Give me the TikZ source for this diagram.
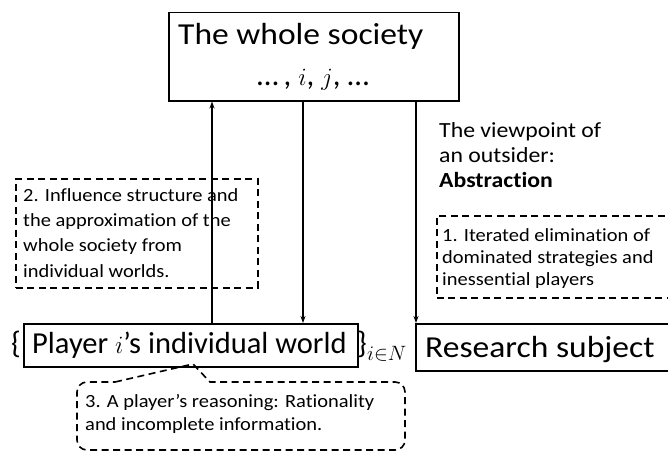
\documentclass[tikz,border=0pt]{standalone}
\usepackage{fontspec}
\setmainfont[Ligatures=NoCommon]{Carlito}
\newfontfamily\wfont[FakeStretch=1.1,Ligatures=NoCommon]{Carlito}
\usetikzlibrary{arrows.meta}
\begin{document}
\begin{tikzpicture}[x=1pt,y=-1pt,
  box/.style={draw, line width=1.5pt, inner sep=0pt},
  dbox/.style={draw, line width=1.6pt, dash pattern=on 7pt off 4.5pt},
  arr/.style={line width=1.3pt, -{Stealth[length=7pt,width=5pt]}},
  txt/.style={inner sep=0pt, anchor=base west},
  big/.style={font=\wfont\fontsize{30.5}{36}\selectfont},
  mid/.style={font=\wfont\fontsize{21.6}{25}\selectfont},
  small/.style={align=left}]
\useasboundingbox (0,0) rectangle (668,452);
\fill[white] (0,0) rectangle (668,452);

% top box
\node[box, anchor=north west, minimum width=290pt, minimum height=88pt] (soc) at (168,12) {};
\node[txt, big] (soct) at (178,45) {The whole society};
\node[inner sep=0pt, anchor=base, font=\fontsize{31}{36}\selectfont] (idx) at (313,85) {…\,, $i$, $j$, …};

% player box
\node[box, anchor=north west, minimum width=334pt, minimum height=43pt] (player) at (23,323) {};
\node[txt, font=\fontsize{30.5}{36}\selectfont] (playert) at (32,353) {Player $i$’s individual world};
\node[inner sep=0pt, anchor=base east, font=\fontsize{31}{36}\selectfont] (lbr) at (21,353) {\{};
\node[txt, font=\fontsize{31}{36}\selectfont] (rbr) at (357,353) {\}};
\node[txt, font=\fontsize{20}{20}\selectfont] (sub) at (367,360) {$i{\in}N$};

% research box
\node[box, anchor=north west, minimum width=300pt, minimum height=47pt] (res) at (415,323) {};
\node[txt, big] (rest) at (425,357) {Research subject};

% outsider text (anchor = baseline of last line)
\node[txt, mid, align=left] (out) at (439,187) {The viewpoint of\\an outsider:\\\textbf{Abstraction}};

% dashed box 1
\node[dbox, anchor=north west, minimum width=280pt, minimum height=82pt] (d1) at (436,215) {};
\node[txt, small, font=\wfont\fontsize{18.6}{22}\selectfont] (d1t) at (442,285) {1. Iterated elimination of\\dominated strategies and\\inessential players};

% dashed box 2
\node[dbox, anchor=north west, minimum width=242pt, minimum height=109pt] (d2) at (15,178) {};
\node[txt, small, font=\wfont\fontsize{18.6}{25.3}\selectfont] (d2t) at (23,277) {2. Influence structure and\\the approximation of the\\whole society from\\individual worlds.};

% callout 3
\draw[dbox] (115,382) -- (193,364) -- (210,382)
  [rounded corners=10pt] -- (405,382) -- (405,450) -- (77,450) -- (77,382) -- (115,382);
\node[txt, small, font=\wfont\fontsize{18.6}{23}\selectfont] (d3t) at (85,430) {3. A player’s reasoning: Rationality\\and incomplete information.};

% connectors
\coordinate (xl) at (212,0);
\coordinate (xm) at (303,0);
\coordinate (xr) at (416,0);
\draw[arr] (player.north -| xl) -- (soc.south -| xl);
\draw[arr] (soc.south -| xm) -- (player.north -| xm);
\draw[arr] (soc.south -| xr) -- (res.north -| xr);
\end{tikzpicture}
\end{document}
